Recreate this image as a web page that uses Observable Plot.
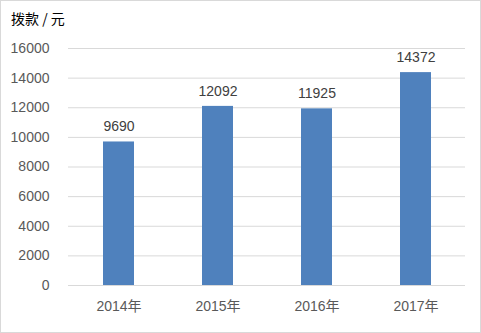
<!DOCTYPE html>
<html><head><meta charset="utf-8">
<script src="https://cdn.jsdelivr.net/npm/d3@7"></script>
<script src="https://cdn.jsdelivr.net/npm/@observablehq/plot@0.6"></script>
<style>
body{margin:0;background:#fff;}
#wrap{position:relative;width:481px;height:333px;box-sizing:border-box;}
#frame{position:absolute;left:0;top:0;width:479px;height:331px;border:1px solid #d9d9d9;pointer-events:none;}
#title{position:absolute;left:11px;top:8px;font:14px "Noto Sans CJK SC","Liberation Sans",sans-serif;color:#000;}
#chart{position:absolute;left:0;top:0;}
</style></head>
<body>
<div id="wrap"><div id="chart"></div><div id="title">拨款 / 元</div><div id="frame"></div></div>
<script>
const years = ["2014年","2015年","2016年","2017年"];
const amounts = [9690, 12092, 11925, 14372];
const yTicks = [0,2000,4000,6000,8000,10000,12000,14000,16000];
const data = years.map((y,i)=>({year:y, value:amounts[i]}));
const font = '"Liberation Sans","Noto Sans CJK SC",sans-serif';
const chart = Plot.plot({
  width:481, height:333,
  marginTop:48, marginBottom:48, marginLeft:68, marginRight:16,
  style:{fontFamily:font, fontSize:"14px", color:"#595959", background:"transparent"},
  x:{domain:years, paddingInner:0.69, paddingOuter:0.345, align:0.5, label:null},
  y:{domain:[0,16000], ticks:yTicks, label:null},
  marks:[
    Plot.ruleY(yTicks,{stroke:"#d9d9d9", strokeWidth:1}),
    Plot.barY(data,{x:"year", y:"value", fill:"#4f81bd", inset:0}),
    Plot.text(data,{x:"year", y:"value", text:d=>String(d.value), dy:-15, fill:"#404040", fontSize:14}),
    Plot.axisX({tickSize:0, tickPadding:16, fontSize:14, fill:"#595959"}),
    Plot.axisY({ticks:yTicks, tickSize:0, tickPadding:19, fontSize:14, fill:"#595959", tickFormat:d=>String(d)})
  ]
});
document.getElementById("chart").appendChild(chart);
</script>
</body></html>
